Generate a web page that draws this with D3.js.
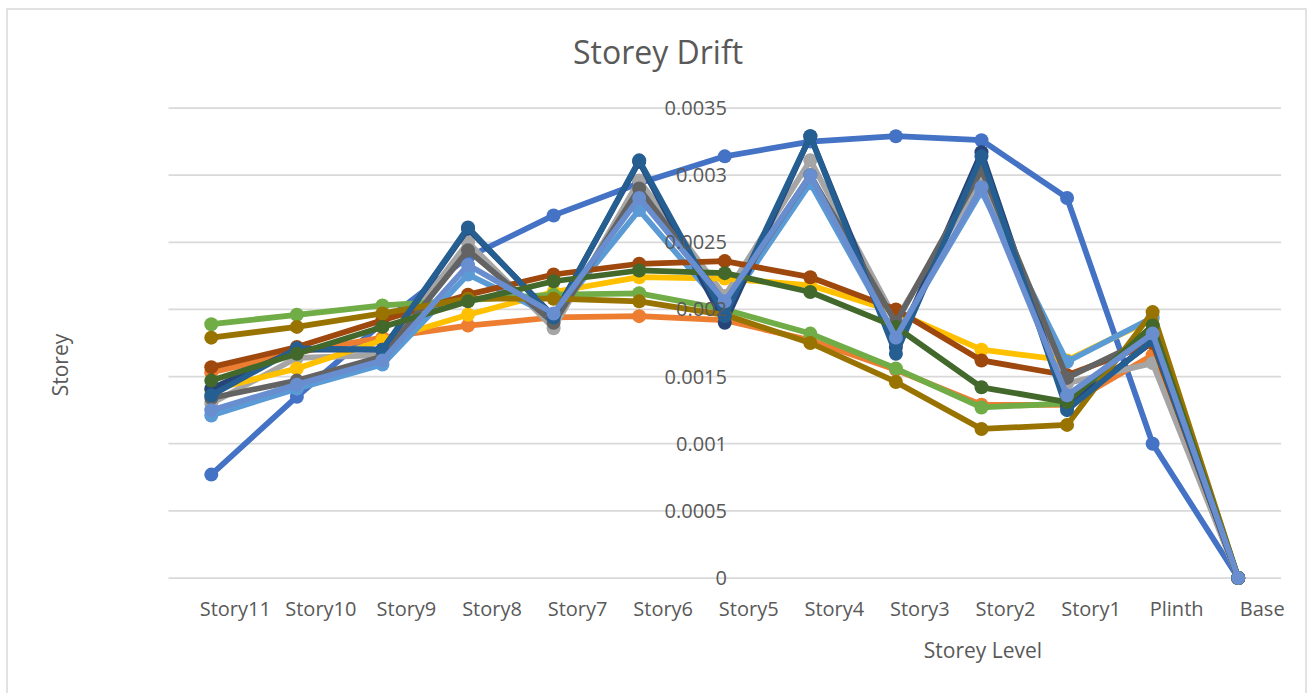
<!doctype html>
<html>
<head>
<meta charset="utf-8">
<script src="https://d3js.org/d3.v7.min.js"></script>
<style>
  body { margin: 0; background: #fff; }
  text { font-family: "Open Sans", sans-serif; fill: #595959; }
</style>
</head>
<body>
<div class="graph"></div>
<script>
// storey levels, top to bottom
var categories = ["Story11", "Story10", "Story9", "Story8", "Story7", "Story6", "Story5",
                  "Story4", "Story3", "Story2", "Story1", "Plinth", "Base"];

var yTicks = [0, 0.0005, 0.001, 0.0015, 0.002, 0.0025, 0.003, 0.0035];

var s1  = [0.00077, 0.00135, 0.0019, 0.00239, 0.0027, 0.00294, 0.00314, 0.00325, 0.00329, 0.00326, 0.00283, 0.001, 0];
var s2  = [0.00153, 0.00168, 0.00179, 0.00188, 0.00194, 0.00195, 0.00192, 0.00177, 0.00155, 0.00129, 0.00129, 0.00166, 0];
var s3  = [0.0013, 0.00164, 0.00166, 0.0025, 0.00186, 0.00296, 0.0021, 0.00311, 0.00192, 0.00298, 0.00145, 0.0016, 0];
var s4  = [0.0014, 0.00156, 0.00177, 0.00196, 0.00213, 0.00224, 0.00223, 0.00218, 0.00198, 0.0017, 0.00162, 0.00193, 0];
var s5  = [0.00121, 0.00141, 0.00159, 0.00226, 0.00195, 0.00274, 0.002, 0.00294, 0.0018, 0.00288, 0.00161, 0.00194, 0];
var s6  = [0.00189, 0.00196, 0.00203, 0.00207, 0.00211, 0.00212, 0.002, 0.00182, 0.00156, 0.00127, 0.0013, 0.00188, 0];
var s7  = [0.00141, 0.0017, 0.0017, 0.0026, 0.00195, 0.0031, 0.0019, 0.00329, 0.00172, 0.00317, 0.00128, 0.00176, 0];
var s8  = [0.00157, 0.00172, 0.00192, 0.00211, 0.00226, 0.00234, 0.00236, 0.00224, 0.002, 0.00162, 0.00151, 0.00175, 0];
var s9  = [0.00134, 0.00147, 0.00165, 0.00244, 0.0019, 0.0029, 0.00205, 0.003, 0.0019, 0.00304, 0.00149, 0.0018, 0];
var s10 = [0.00179, 0.00187, 0.00197, 0.00208, 0.00208, 0.00206, 0.00196, 0.00175, 0.00146, 0.00111, 0.00114, 0.00198, 0];
var s11 = [0.00136, 0.00171, 0.0017, 0.00261, 0.00194, 0.00311, 0.00195, 0.00329, 0.00167, 0.00314, 0.00125, 0.00177, 0];
var s12 = [0.00147, 0.00167, 0.00187, 0.00206, 0.00221, 0.00229, 0.00227, 0.00213, 0.00187, 0.00142, 0.00131, 0.00188, 0];
var s13 = [0.00125, 0.00144, 0.00162, 0.00233, 0.00197, 0.00283, 0.00206, 0.003, 0.00179, 0.00291, 0.00136, 0.00182, 0];

var series = [s1, s2, s3, s4, s5, s6, s7, s8, s9, s10, s11, s12, s13];
var colors = ["#4472C4", "#ED7D31", "#A5A5A5", "#FFC000", "#5B9BD5", "#70AD47", "#264478",
              "#9E480E", "#636363", "#997300", "#255E91", "#43682B", "#698ED0"];

var width = 1310, height = 693;

var svg = d3.select('.graph')
            .append('svg')
            .attr('width', width)
            .attr('height', height);

// chart area border
svg.append('rect')
   .attr('x', 7).attr('y', 9)
   .attr('width', 1299).attr('height', 700)
   .style('fill', '#fff')
   .style('stroke', '#D9D9D9')
   .style('stroke-width', 1.5);

var x = d3.scaleBand()
          .domain(categories)
          .range([168.5, 1281]);

var y = d3.scaleLinear()
          .domain([0, 0.0035])
          .range([578, 108]);

// gridlines
svg.append('g')
   .selectAll('line')
   .data(yTicks)
   .enter()
   .append('line')
   .attr('x1', 168.5)
   .attr('x2', 1281)
   .attr('y1', function(d){ return y(d); })
   .attr('y2', function(d){ return y(d); })
   .style('stroke', '#D9D9D9')
   .style('stroke-width', 1.75);

var line = d3.line()
             .x(function(d, i){ return x(categories[i]) + x.bandwidth() / 2; })
             .y(function(d){ return y(d); });

var group = svg.append('g')
               .selectAll('g')
               .data(series)
               .enter()
               .append('g');

group.append('path')
     .attr('d', function(d){ return line(d); })
     .style('fill', 'none')
     .style('stroke', function(d, i){ return colors[i]; })
     .style('stroke-width', 5.75)
     .style('stroke-linejoin', 'round')
     .style('stroke-linecap', 'round');

group.each(function(d, k){
  d3.select(this).selectAll('circle')
    .data(d)
    .enter()
    .append('circle')
    .attr('cx', function(v, i){ return x(categories[i]) + x.bandwidth() / 2; })
    .attr('cy', function(v){ return y(v); })
    .attr('r', 7)
    .style('fill', colors[k]);
});

// y tick labels sit in the middle of the plot
svg.append('g')
   .selectAll('text')
   .data(yTicks)
   .enter()
   .append('text')
   .attr('x', 727)
   .attr('y', function(d){ return y(d); })
   .attr('dy', '0.35em')
   .attr('text-anchor', 'end')
   .style('font-size', '20px')
   .text(function(d){ return d === 0 ? "0" : String(d); });

// category labels
svg.append('g')
   .selectAll('text')
   .data(categories)
   .enter()
   .append('text')
   .attr('x', function(d){ return x(d) + x.bandwidth() / 2 + 24; })
   .attr('y', 616)
   .attr('text-anchor', 'middle')
   .style('font-size', '20px')
   .text(function(d){ return d; });

svg.append('text')
   .attr('x', 658)
   .attr('y', 64)
   .attr('text-anchor', 'middle')
   .style('font-size', '32px')
   .text('Storey Drift');

svg.append('text')
   .attr('x', 983)
   .attr('y', 658)
   .attr('text-anchor', 'middle')
   .style('font-size', '21px')
   .text('Storey Level');

svg.append('text')
   .attr('transform', 'translate(68,365) rotate(-90)')
   .attr('text-anchor', 'middle')
   .style('font-size', '21px')
   .text('Storey');
</script>
</body>
</html>
